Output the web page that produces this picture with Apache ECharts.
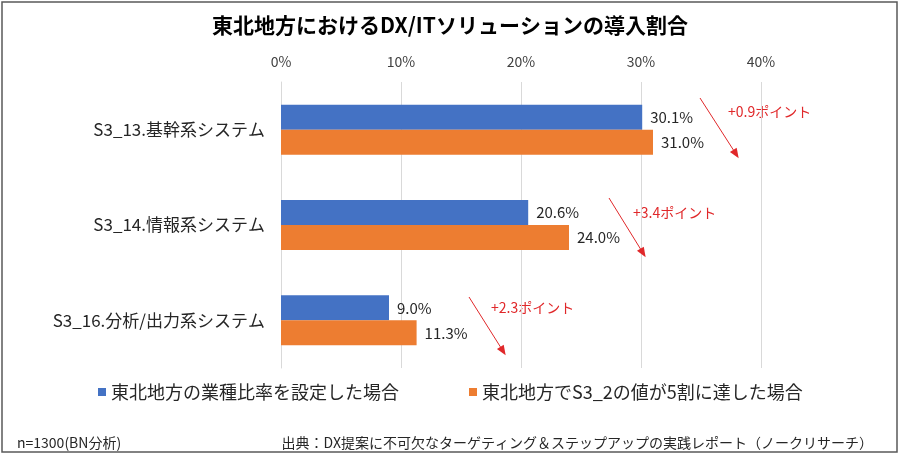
<!DOCTYPE html>
<html>
<head>
<meta charset="utf-8">
<title>東北地方におけるDX/ITソリューションの導入割合</title>
<style>
  html, body { margin: 0; padding: 0; background: #fff; }
  #main { width: 900px; height: 455px; }
</style>
</head>
<body>
<div id="main"></div>
<script src="https://cdn.jsdelivr.net/npm/echarts@6/dist/echarts.min.js"></script>
<script type="text/javascript">
  var categories = ['S3_13.基幹系システム', 'S3_14.情報系システム', 'S3_16.分析/出力系システム'];
  var seriesNames = ['東北地方の業種比率を設定した場合', '東北地方でS3_2の値が5割に達した場合'];
  var baseValues = [30.1, 20.6, 9.0];
  var targetValues = [31.0, 24.0, 11.3];
  var axisTicks = [0, 10, 20, 30, 40];
  var diffLabels = ['+0.9ポイント', '+3.4ポイント', '+2.3ポイント'];

  var font = 'Noto Sans CJK JP';
  var red = '#E0282A';

  // arrow annotations (pixel positions)
  var arrows = [
    [{x: 700, y: 98}, {x: 736, y: 154}],
    [{x: 609, y: 198}, {x: 643, y: 253}],
    [{x: 469, y: 297}, {x: 503, y: 351}]
  ];
  var diffPos = [[728, 112], [633, 213], [491, 308]];

  var myChart = echarts.init(document.getElementById('main'));

  var graphics = [{
    type: 'rect',
    shape: {x: 2, y: 2, width: 895, height: 450},
    style: {fill: 'none', stroke: '#595959', lineWidth: 1.5},
    silent: true
  }];
  diffLabels.forEach(function (t, i) {
    graphics.push({
      type: 'text',
      x: diffPos[i][0],
      y: diffPos[i][1],
      style: {text: t, fill: red, font: '14px "' + font + '"', textVerticalAlign: 'middle'}
    });
  });

  var option = {
    animation: false,
    textStyle: {fontFamily: font},
    title: [{
      text: '東北地方におけるDX/ITソリューションの導入割合',
      left: 'center',
      top: 10,
      textStyle: {fontSize: 21, fontWeight: 'bold', color: '#000', fontFamily: font}
    }, {
      text: 'n=1300(BN分析)',
      left: 12,
      top: 431,
      textStyle: {fontSize: 14, fontWeight: 'normal', color: '#262626', fontFamily: font}
    }, {
      text: '出典：DX提案に不可欠なターゲティング＆ステップアップの実践レポート（ノークリサーチ）',
      right: 22,
      top: 431,
      textStyle: {fontSize: 14, fontWeight: 'normal', color: '#262626', fontFamily: font}
    }],
    legend: {
      data: seriesNames,
      left: 93,
      top: 378,
      itemWidth: 8,
      itemHeight: 8,
      itemGap: 70,
      icon: 'rect',
      textStyle: {fontSize: 18, color: '#262626', fontFamily: font}
    },
    grid: {left: 281, right: 139, top: 82, bottom: 87},
    xAxis: {
      type: 'value',
      position: 'top',
      min: axisTicks[0],
      max: axisTicks[axisTicks.length - 1],
      interval: 10,
      axisLine: {show: false},
      axisTick: {show: false},
      axisLabel: {formatter: '{value}%', fontSize: 14, color: '#404040', margin: 13, fontFamily: font},
      splitLine: {lineStyle: {color: '#d9d9d9', width: 1}}
    },
    yAxis: {
      type: 'category',
      data: categories,
      inverse: true,
      axisLine: {show: true, lineStyle: {color: '#d9d9d9'}},
      axisTick: {show: false},
      axisLabel: {fontSize: 17, color: '#262626', margin: 16, fontFamily: font}
    },
    series: [{
      name: seriesNames[0],
      type: 'bar',
      data: baseValues,
      barWidth: 25,
      barGap: '0%',
      itemStyle: {color: '#4472C4'},
      label: {show: true, position: 'right', distance: 8, formatter: function (p) { return p.value.toFixed(1) + '%'; }, fontSize: 15, color: '#262626', fontFamily: font},
      markLine: {
        silent: true,
        symbol: ['none', 'triangle'],
        symbolSize: [8, 10],
        label: {show: false},
        lineStyle: {color: red, width: 1, type: 'solid'},
        data: arrows
      }
    }, {
      name: seriesNames[1],
      type: 'bar',
      data: targetValues,
      barWidth: 25,
      barGap: '0%',
      itemStyle: {color: '#ED7D31'},
      label: {show: true, position: 'right', distance: 8, formatter: function (p) { return p.value.toFixed(1) + '%'; }, fontSize: 15, color: '#262626', fontFamily: font}
    }],
    graphic: graphics
  };
  myChart.setOption(option);
</script>
</body>
</html>
